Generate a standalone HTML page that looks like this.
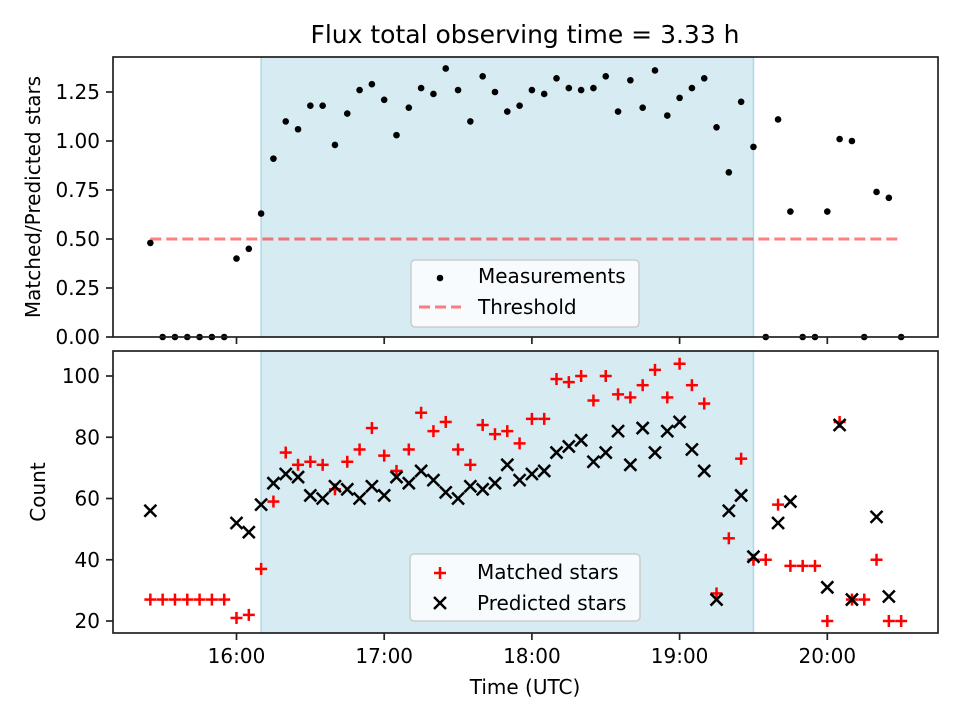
<!DOCTYPE html>
<html><head><meta charset="utf-8"><style>
body{margin:0;background:#fff;}
svg{display:block;font-family:"DejaVu Sans","Liberation Sans",sans-serif;}
</style></head><body>
<svg id="chart" width="960" height="720" viewBox="0 0 960 720"></svg>
<script>
const times = ["15:25","15:30","15:35","15:40","15:45","15:50","15:55","16:00","16:05","16:10","16:15","16:20","16:25","16:30","16:35","16:40","16:45","16:50","16:55","17:00","17:05","17:10","17:15","17:20","17:25","17:30","17:35","17:40","17:45","17:50","17:55","18:00","18:05","18:10","18:15","18:20","18:25","18:30","18:35","18:40","18:45","18:50","18:55","19:00","19:05","19:10","19:15","19:20","19:25","19:30","19:35","19:40","19:45","19:50","19:55","20:00","20:05","20:10","20:15","20:20","20:25","20:30"];
const ratio = [0.48,0,0,0,0,0,0,0.40,0.45,0.63,0.91,1.10,1.06,1.18,1.18,0.98,1.14,1.26,1.29,1.21,1.03,1.17,1.27,1.24,1.37,1.26,1.10,1.33,1.25,1.15,1.18,1.26,1.24,1.32,1.27,1.26,1.27,1.33,1.15,1.31,1.17,1.36,1.13,1.22,1.27,1.32,1.07,0.84,1.20,0.97,0,1.11,0.64,0,0,0.64,1.01,1.00,0,0.74,0.71,0];
const matched = [27,27,27,27,27,27,27,21,22,37,59,75,71,72,71,63,72,76,83,74,69,76,88,82,85,76,71,84,81,82,78,86,86,99,98,100,92,100,94,93,97,102,93,104,97,91,29,47,73,40,40,58,38,38,38,20,85,27,27,40,20,20];
const predicted = [56,null,null,null,null,null,null,52,49,58,65,68,67,61,60,64,63,60,64,61,67,65,69,66,62,60,64,63,65,71,66,68,69,75,77,79,72,75,82,71,83,75,82,85,76,69,27,56,61,41,null,52,59,null,null,31,84,27,null,54,28,null];
const threshold = 0.5;
const shadeStart = "16:10", shadeEnd = "19:30";
const xTicks = ["16:00","17:00","18:00","19:00","20:00"];
const topTicks = [0,0.25,0.5,0.75,1.0,1.25];
const botTicks = [20,40,60,80,100];

const NS="http://www.w3.org/2000/svg";
const svg=document.getElementById('chart');
function mk(tag,attrs,parent){const e=document.createElementNS(NS,tag);for(const k in attrs)e.setAttribute(k,attrs[k]);(parent||svg).appendChild(e);return e;}
function mins(t){const p=t.split(':');return +p[0]*60+ +p[1];}
const L=113,R=938;
function X(t){return 236.5+(mins(t)-960)*147.7/60;}
const T1=57,B1=337, T2=351,B2=633;
function Y1(v){return 337-v*196;}
function Y2(v){return 621-(v-20)*3.0625;}
const FS=20;

[[T1,B1,'top'],[T2,B2,'bottom']].forEach(([t,b,n])=>{
  const s=mk('rect',{x:X(shadeStart),y:t,width:X(shadeEnd)-X(shadeStart),height:b-t,fill:'#add8e6','fill-opacity':0.5,stroke:'#add8e6','stroke-width':1.5});
  
  
});
const th=mk('line',{x1:X(times[0]),x2:X(times[times.length-1]),y1:Y1(threshold),y2:Y1(threshold),stroke:'#ff0000','stroke-opacity':0.5,'stroke-width':3,'stroke-dasharray':'11,5'});


times.forEach((t,i)=>{
  const c=mk('circle',{cx:X(t),cy:Y1(ratio[i]),r:3.3,fill:'#000'});
  
  
});
function plus(x,y,parent){const g=mk('g',{stroke:'#ff0000','stroke-width':2.5},parent);mk('line',{x1:x-6,x2:x+6,y1:y,y2:y},g);mk('line',{x1:x,x2:x,y1:y-6,y2:y+6},g);return g;}
function cross(x,y,parent){const g=mk('g',{stroke:'#000','stroke-width':2.5},parent);mk('line',{x1:x-6,x2:x+6,y1:y-6,y2:y+6},g);mk('line',{x1:x-6,x2:x+6,y1:y+6,y2:y-6},g);return g;}
times.forEach((t,i)=>{
  const m=plus(X(t),Y2(matched[i]));
  
  
});
times.forEach((t,i)=>{
  if(predicted[i]===null)return;
  const p=cross(X(t),Y2(predicted[i]));
  
  
});
[[T1,B1],[T2,B2]].forEach(([t,b],k)=>{
  const f=mk('rect',{x:L,y:t,width:R-L,height:b-t,fill:'none',stroke:'#222','stroke-width':1.7});
  
  
  xTicks.forEach(tk=>{mk('line',{x1:X(tk),x2:X(tk),y1:b,y2:b+7,stroke:'#222','stroke-width':1.7});});
});
xTicks.forEach(tk=>{
  const e=mk('text',{x:X(tk),y:663,'text-anchor':'middle','font-size':FS});
  e.textContent=tk;
  
  
});
topTicks.forEach(v=>{
  mk('line',{x1:L-7,x2:L,y1:Y1(v),y2:Y1(v),stroke:'#222','stroke-width':1.7});
  const e=mk('text',{x:L-13,y:Y1(v)+7,'text-anchor':'end','font-size':FS});
  e.textContent=v.toFixed(2);
  
  
});
botTicks.forEach(v=>{
  mk('line',{x1:L-7,x2:L,y1:Y2(v),y2:Y2(v),stroke:'#222','stroke-width':1.7});
  const e=mk('text',{x:L-13,y:Y2(v)+7,'text-anchor':'end','font-size':FS});
  e.textContent=v;
  
  
});
function txt(s,attrs,name){const e=mk('text',attrs);e.textContent=s;return e;}
txt('Flux total observing time = 3.33 h',{x:525,y:43,'text-anchor':'middle','font-size':25},'chart-title');
txt('Time (UTC)',{x:525,y:694,'text-anchor':'middle','font-size':FS},'x-axis-title');
txt('Matched/Predicted stars',{x:0,y:0,'text-anchor':'middle','font-size':FS,transform:'translate(40,197) rotate(-90)'},'top-y-axis-title');
txt('Count',{x:0,y:0,'text-anchor':'middle','font-size':FS,transform:'translate(45,492) rotate(-90)'},'bottom-y-axis-title');
const lg1=mk('g',{});
mk('rect',{x:411,y:260,width:228,height:67,rx:4,fill:'#fff','fill-opacity':0.8,stroke:'#ccc','stroke-width':1.5},lg1);
mk('circle',{cx:440,cy:278,r:3.3,fill:'#000'},lg1);
mk('line',{x1:419,x2:461,y1:307,y2:307,stroke:'#ff0000','stroke-opacity':0.5,'stroke-width':3,'stroke-dasharray':'11,5'},lg1);
txt('Measurements',{x:478,y:283,'font-size':FS},'legend-measurements');
txt('Threshold',{x:478,y:314,'font-size':FS},'legend-threshold');
const lg2=mk('g',{});
mk('rect',{x:410,y:554,width:230,height:67,rx:4,fill:'#fff','fill-opacity':0.8,stroke:'#ccc','stroke-width':1.5},lg2);
plus(440,573,lg2);cross(440,603,lg2);
txt('Matched stars',{x:477,y:579,'font-size':FS},'legend-matched-stars');
txt('Predicted stars',{x:477,y:610,'font-size':FS},'legend-predicted-stars');
</script>
</body></html>
